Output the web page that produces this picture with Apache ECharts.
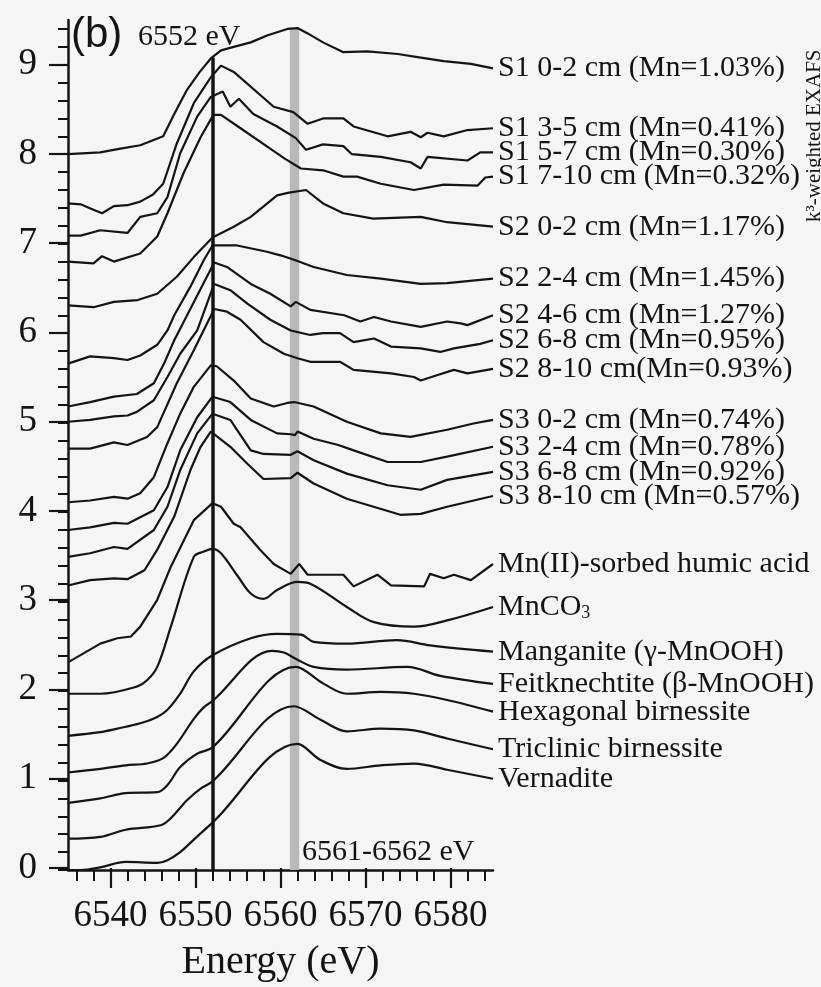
<!DOCTYPE html>
<html><head><meta charset="utf-8">
<script src="https://cdn.jsdelivr.net/npm/echarts@6/dist/echarts.min.js"></script>
<style>html,body{margin:0;padding:0;background:#f5f5f5}#c{width:821px;height:987px}</style>
</head><body><div id="c"></div>
<script>
// ---- axes ----
const energyMin = 6535, energyMax = 6585;
const yMin = 0, yMax = 9.5;
const xMajorTicks = [6540, 6550, 6560, 6570, 6580];
const xMinorTicks = [6536, 6538, 6540, 6542, 6544, 6546, 6548, 6550, 6552, 6554, 6556, 6558, 6560, 6562, 6564, 6566, 6568, 6570, 6572, 6574, 6576, 6578, 6580, 6582, 6584];
const yMajorTicks = [0, 1, 2, 3, 4, 5, 6, 7, 8, 9];
const yMinorTicks = [0, 0.2, 0.4, 0.6, 0.8, 1, 1.2, 1.4, 1.6, 1.8, 2, 2.2, 2.4, 2.6, 2.8, 3, 3.2, 3.4, 3.6, 3.8, 4, 4.2, 4.4, 4.6, 4.8, 5, 5.2, 5.4, 5.6, 5.8, 6, 6.2, 6.4, 6.6, 6.8, 7, 7.2, 7.4, 7.6, 7.8, 8, 8.2, 8.4, 8.6, 8.8, 9, 9.2, 9.4];

// ---- reference markers ----
const edgeEnergy = 6552, edgeTop = 9.08;
const bandEnergy = [6561.1, 6562.2], bandTop = 9.41;

// ---- series names ----
const seriesNames = [
  'S1 0-2 cm (Mn=1.03%)', 'S1 3-5 cm (Mn=0.41%)', 'S1 5-7 cm (Mn=0.30%)', 'S1 7-10 cm (Mn=0.32%)',
  'S2 0-2 cm (Mn=1.17%)', 'S2 2-4 cm (Mn=1.45%)', 'S2 4-6 cm (Mn=1.27%)', 'S2 6-8 cm (Mn=0.95%)', 'S2 8-10 cm(Mn=0.93%)',
  'S3 0-2 cm (Mn=0.74%)', 'S3 2-4 cm (Mn=0.78%)', 'S3 6-8 cm (Mn=0.92%)', 'S3 8-10 cm (Mn=0.57%)',
  'Mn(II)-sorbed humic acid', 'MnCO3', 'Manganite (γ-MnOOH)', 'Feitknechtite (β-MnOOH)',
  'Hexagonal birnessite', 'Triclinic birnessite', 'Vernadite'
];

// ---- spectra: [energy (eV), normalized, offset absorbance] ----
const s1_0_2 = [[6535,8.0],[6538.8,8.02],[6541,8.06],[6543.5,8.1],[6546.2,8.2],[6547.5,8.45],[6549,8.72],[6550.5,8.92],[6551.8,9.07],[6553,9.16],[6554.5,9.2],[6556.5,9.25],[6558.5,9.33],[6560.8,9.4],[6562,9.41],[6563.2,9.35],[6565,9.25],[6567.4,9.14],[6570.2,9.15],[6573.8,9.12],[6576.5,9.08],[6579.2,9.04],[6582.4,9.01],[6585,8.96]];
const s1_3_5 = [[6535,7.45],[6536.5,7.44],[6537.5,7.4],[6539,7.34],[6540.4,7.42],[6542,7.43],[6543.5,7.47],[6545,7.55],[6546.2,7.67],[6547.8,8.12],[6549.8,8.57],[6551.8,8.86],[6553,8.99],[6554.5,8.92],[6559.2,8.53],[6561.5,8.47],[6563.2,8.34],[6565,8.4],[6567.4,8.4],[6568.6,8.31],[6572.6,8.2],[6575.3,8.25],[6576.5,8.19],[6577.3,8.24],[6579.2,8.2],[6582,8.27],[6585,8.29]];
const s1_5_7 = [[6535,7.09],[6536.5,7.09],[6538.8,7.15],[6542,7.12],[6543.5,7.3],[6545.5,7.34],[6546.7,7.52],[6548.2,8.01],[6550.2,8.42],[6551.8,8.64],[6553.2,8.7],[6554.1,8.53],[6555.1,8.62],[6556.8,8.45],[6559.6,8.31],[6561.8,8.18],[6563,8.05],[6565,8.11],[6567.4,8.09],[6568.4,8.0],[6571.8,7.97],[6575.3,7.91],[6576.5,7.84],[6577.3,7.97],[6582,7.93],[6583.5,8.02],[6585,8.02]];
const s1_7_10 = [[6535,6.8],[6538,6.78],[6539,6.86],[6540.4,6.8],[6543.5,6.89],[6545.5,7.08],[6546.7,7.34],[6548.6,7.79],[6550.6,8.19],[6552.1,8.44],[6553,8.44],[6555.3,8.29],[6559.6,8.01],[6560.5,7.95],[6562.4,7.84],[6565,7.82],[6567.4,7.75],[6569,7.75],[6571.8,7.67],[6575.7,7.6],[6579.2,7.66],[6583.2,7.65],[6584.1,7.74],[6585,7.75]];
const s2_0_2 = [[6535,6.31],[6538,6.29],[6540.4,6.35],[6543.2,6.37],[6545.5,6.44],[6547.8,6.63],[6549.8,6.85],[6552,7.07],[6554.5,7.19],[6556.5,7.3],[6559.6,7.54],[6561,7.57],[6563,7.6],[6565,7.45],[6567.4,7.34],[6570.9,7.28],[6576.5,7.3],[6579.6,7.24],[6585,7.19]];
const s2_2_4 = [[6535,5.66],[6537.6,5.74],[6540.4,5.72],[6542,5.7],[6543.5,5.75],[6545.5,5.87],[6546.7,6.03],[6547.5,6.2],[6549.4,6.52],[6551,6.82],[6552,6.98],[6554.9,6.98],[6558.4,6.91],[6560,6.87],[6561.6,6.82],[6563.9,6.74],[6567.8,6.65],[6571.8,6.61],[6576.5,6.55],[6579.6,6.56],[6585,6.61]];
const s2_4_6 = [[6535,5.18],[6537.6,5.23],[6540.4,5.29],[6543.1,5.32],[6545.1,5.44],[6546.3,5.66],[6547.5,5.92],[6552.2,6.79],[6553.7,6.74],[6556.5,6.55],[6558.8,6.44],[6561.2,6.3],[6561.8,6.35],[6563.5,6.26],[6567.5,6.2],[6569.4,6.13],[6571,6.18],[6573,6.13],[6576.5,6.07],[6579.6,6.13],[6581.2,6.11],[6582,6.09],[6585,6.2]];
const s2_6_8 = [[6535,5.01],[6537.6,5.03],[6540.4,5.07],[6542,5.08],[6543.1,5.12],[6545.1,5.25],[6546.7,5.51],[6548.2,5.77],[6550.2,6.03],[6552.2,6.55],[6554.1,6.48],[6556.1,6.33],[6558.8,6.15],[6561.2,6.03],[6563.5,5.98],[6565,6.0],[6567,6.0],[6568.6,5.9],[6571,5.94],[6573,5.85],[6576.5,5.83],[6578.8,5.79],[6580.4,5.83],[6583.5,5.88],[6585,5.92]];
const s2_8_10 = [[6535,4.71],[6537.6,4.71],[6540.4,4.78],[6542,4.75],[6544.3,4.84],[6545.5,4.95],[6547.8,5.44],[6549.8,5.81],[6552.2,6.27],[6553.7,6.24],[6555.3,6.15],[6558,5.9],[6560.4,5.77],[6562,5.72],[6563.5,5.68],[6567,5.68],[6568.6,5.59],[6573,5.55],[6575.7,5.51],[6576.5,5.47],[6578.4,5.53],[6580.4,5.59],[6582,5.55],[6585,5.6]];
const s3_0_2 = [[6535,4.11],[6537.6,4.13],[6540.4,4.17],[6542,4.15],[6543.5,4.21],[6545.1,4.39],[6546.7,4.77],[6548.2,5.1],[6549.8,5.4],[6551.8,5.64],[6552.5,5.63],[6554.5,5.47],[6556.5,5.27],[6559.2,5.18],[6560.8,5.22],[6561.6,5.23],[6563.9,5.18],[6567.8,5.01],[6571.8,4.88],[6575.3,4.84],[6579.6,4.92],[6582.7,4.99],[6585,5.03]];
const s3_2_4 = [[6535,3.8],[6537.6,3.83],[6540.4,3.88],[6542,3.87],[6545.1,4.02],[6546.7,4.28],[6548.2,4.69],[6550.2,5.06],[6552,5.29],[6554.1,5.23],[6556.5,5.03],[6559.6,4.88],[6561.2,4.87],[6561.7,4.86],[6562,4.9],[6563.9,4.82],[6566.8,4.75],[6568.6,4.69],[6572.6,4.56],[6576.5,4.56],[6579.6,4.62],[6585,4.73]];
const s3_6_8 = [[6535,3.5],[6537.6,3.54],[6540.4,3.61],[6542,3.59],[6545.1,3.8],[6546.7,4.06],[6548.2,4.47],[6550.2,4.88],[6552,5.1],[6554.1,5.03],[6556.5,4.69],[6558,4.65],[6561.2,4.64],[6562,4.68],[6563.9,4.58],[6567.8,4.43],[6572.6,4.3],[6576.5,4.25],[6579.6,4.36],[6585,4.45]];
const s3_8_10 = [[6535,3.18],[6537.6,3.24],[6540.4,3.26],[6542,3.25],[6544,3.35],[6545.5,3.58],[6547.5,3.95],[6549.4,4.47],[6550.6,4.73],[6551.8,4.9],[6554.1,4.73],[6556.1,4.54],[6558,4.37],[6561.2,4.38],[6562,4.44],[6563.9,4.32],[6567.8,4.15],[6574.1,3.97],[6576.5,3.98],[6579.6,4.06],[6585,4.18]];
const mnHumic = [[6535,2.32],[6538.8,2.53],[6540.8,2.59],[6542.4,2.61],[6543.5,2.72],[6545.5,3.02],[6547.1,3.39],[6549.8,3.91],[6552,4.1],[6553,4.06],[6554.5,3.87],[6555.3,3.83],[6557.6,3.58],[6559.2,3.42],[6561.2,3.31],[6562.2,3.42],[6563.2,3.3],[6567.4,3.3],[6568.6,3.17],[6571.4,3.3],[6573,3.18],[6576.9,3.17],[6577.6,3.31],[6579.2,3.26],[6580.4,3.3],[6582.4,3.24],[6585,3.42]];
const mnco3 = [[6535,1.97],[6538.8,1.97],[6543.1,2.05],[6544.3,2.12],[6545.5,2.27],[6547.1,2.72],[6549.8,3.5],[6551,3.56],[6552,3.59],[6553,3.54],[6555,3.28],[6556.5,3.09],[6558,3.03],[6559.6,3.13],[6562,3.22],[6563.5,3.2],[6567.8,2.94],[6571,2.77],[6575.7,2.72],[6579.6,2.79],[6585,2.94]];
const manganite = [[6535,1.5],[6538.8,1.54],[6540.8,1.58],[6543.5,1.64],[6545.5,1.71],[6546.7,1.79],[6548.2,1.97],[6549.8,2.22],[6552,2.4],[6556.5,2.59],[6559.6,2.64],[6562.4,2.63],[6563.9,2.55],[6567.8,2.53],[6573.7,2.57],[6577.6,2.51],[6585,2.44]];
const feitknechtite = [[6535,1.09],[6538.8,1.13],[6541.8,1.17],[6544.3,1.19],[6546.2,1.25],[6547.8,1.41],[6549.8,1.69],[6551,1.82],[6552,1.89],[6559,2.45],[6560.4,2.43],[6562,2.35],[6563.9,2.27],[6567.8,2.24],[6574.9,2.27],[6578.8,2.17],[6585,2.08]];
const hexBirnessite = [[6535,0.75],[6538.8,0.8],[6541.8,0.86],[6545.5,0.87],[6546.7,0.95],[6548.2,1.15],[6550.2,1.3],[6552,1.37],[6561.8,2.27],[6565.1,2.08],[6567.8,1.97],[6571.8,1.99],[6575.7,1.97],[6579.6,1.9],[6585,1.77]];
const tricBirnessite = [[6535,0.35],[6538.8,0.37],[6541.8,0.45],[6545.9,0.5],[6547.1,0.58],[6549,0.78],[6550.6,0.91],[6552,0.99],[6561.6,1.83],[6564.7,1.68],[6567.8,1.55],[6571.8,1.58],[6575.7,1.56],[6579.6,1.47],[6585,1.35]];
const vernadite = [[6535,0.0],[6536.5,0.0],[6538.8,0.03],[6541.8,0.09],[6545.5,0.08],[6546.7,0.11],[6548.2,0.2],[6549.8,0.34],[6552,0.53],[6562,1.41],[6564.7,1.23],[6567.8,1.13],[6571.8,1.17],[6575.7,1.19],[6579.6,1.12],[6585,1.02]];

const seriesData = [s1_0_2, s1_3_5, s1_5_7, s1_7_10, s2_0_2, s2_2_4, s2_4_6, s2_6_8, s2_8_10,
  s3_0_2, s3_2_4, s3_6_8, s3_8_10, mnHumic, mnco3, manganite, feitknechtite, hexBirnessite, tricBirnessite, vernadite];
const smoothSet = ['MnCO3', 'Manganite (γ-MnOOH)', 'Feitknechtite (β-MnOOH)', 'Hexagonal birnessite', 'Triclinic birnessite', 'Vernadite'];

const INK = '#141414';
const SERIF = '"Liberation Serif", "DejaVu Serif", serif';
const gridBox = { left: 68, right: 328, top: 20, bottom: 117 };
const plain = v => String(v);

const series = seriesNames.map((name, i) => {
  const s = {
    name, type: 'line', xAxisIndex: 0, yAxisIndex: 0,
    data: seriesData[i], showSymbol: false, symbol: 'none',
    smooth: smoothSet.includes(name) ? 0.35 : false,
    lineStyle: { color: INK, width: 2.2 },
    endLabel: {
      show: true, distance: 5, color: INK, fontFamily: SERIF, fontSize: 30,
      formatter: name === 'MnCO3' ? '{a|MnCO}{s|3}' : name,
      rich: name === 'MnCO3' ? { a: { fontFamily: SERIF, fontSize: 30, lineHeight: 30, color: INK },
                                   s: { fontFamily: SERIF, fontSize: 18, lineHeight: 10, verticalAlign: 'bottom', color: INK } } : undefined
    },
    emphasis: { disabled: true }, silent: true, z: 3
  };
  if (i === 0) {
    s.markArea = { silent: true, itemStyle: { color: '#b9b9b9' }, label: { show: false },
      data: [[{ coord: [bandEnergy[0], 0] }, { coord: [bandEnergy[1], bandTop] }]] };
    s.markLine = { silent: true, symbol: ['none', 'none'], label: { show: false },
      lineStyle: { color: INK, width: 3.5, type: 'solid' },
      data: [[{ coord: [edgeEnergy, 0] }, { coord: [edgeEnergy, edgeTop] }]] };
  }
  return s;
});

const chart = echarts.init(document.getElementById('c'), null, { renderer: 'canvas' });
chart.setOption({
  backgroundColor: '#f5f5f5',
  animation: false,
  grid: [Object.assign({}, gridBox), Object.assign({}, gridBox)],
  xAxis: [
    { type: 'value', gridIndex: 0, min: energyMin, max: energyMax,
      axisLine: { show: true, onZero: false, lineStyle: { color: INK, width: 2.5 } },
      axisTick: { show: true, inside: false, length: 11, customValues: xMinorTicks, lineStyle: { color: INK, width: 2 } },
      axisLabel: { show: false }, splitLine: { show: false } },
    { type: 'value', gridIndex: 1, min: energyMin, max: energyMax,
      axisLine: { show: false },
      axisTick: { show: true, inside: false, length: 20, customValues: xMajorTicks, lineStyle: { color: INK, width: 2.2 } },
      axisLabel: { show: true, customValues: xMajorTicks, formatter: plain, margin: 30, color: INK, fontFamily: SERIF, fontSize: 37 },
      splitLine: { show: false },
      name: 'Energy (eV)', nameLocation: 'middle', nameGap: 74,
      nameTextStyle: { color: INK, fontFamily: SERIF, fontSize: 40 } }
  ],
  yAxis: [
    { type: 'value', gridIndex: 0, min: yMin, max: yMax,
      axisLine: { show: true, onZero: false, lineStyle: { color: INK, width: 2.5 } },
      axisTick: { show: true, inside: false, length: 10, customValues: yMinorTicks, lineStyle: { color: INK, width: 2 } },
      axisLabel: { show: false }, splitLine: { show: false } },
    { type: 'value', gridIndex: 1, min: yMin, max: yMax,
      axisLine: { show: false },
      axisTick: { show: true, inside: false, length: 19, customValues: yMajorTicks, lineStyle: { color: INK, width: 2.2 } },
      axisLabel: { show: true, customValues: yMajorTicks, formatter: plain, margin: 31, color: INK, fontFamily: SERIF, fontSize: 37 },
      splitLine: { show: false } }
  ],
  series,
  graphic: [
    { type: 'text', left: 71, top: 14, silent: true,
      style: { text: '(b)', fill: INK, font: '42px "Liberation Sans", Arial, sans-serif' } },
    { type: 'text', x: 138, y: 37, silent: true,
      style: { text: '6552 eV', fill: INK, font: '30px "Liberation Serif", serif', textVerticalAlign: 'middle' } },
    { type: 'text', x: 302, y: 852, silent: true,
      style: { text: '6561-6562 eV', fill: INK, font: '30px "Liberation Serif", serif', textVerticalAlign: 'middle' } },
    { type: 'text', x: 825, y: 222, rotation: Math.PI / 2, silent: true,
      style: { text: 'k³-weighted EXAFS', fill: INK, font: '21px "Liberation Serif", serif', textAlign: 'left', textVerticalAlign: 'bottom' } }
  ]
});
</script></body></html>
